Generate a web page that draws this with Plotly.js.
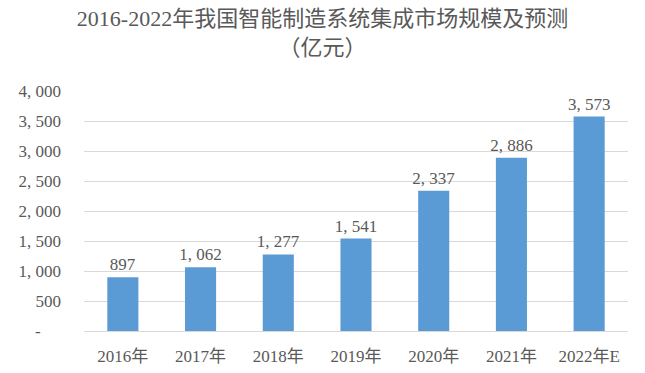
<!DOCTYPE html>
<html><head><meta charset="utf-8">
<script src="https://cdn.plot.ly/plotly-3.0.1.min.js"></script>
<style>html,body{margin:0;padding:0;background:#fff}#c{width:645px;height:373px}</style>
</head><body><div id="c"></div>
<script>
const categories = ["2016年","2017年","2018年","2019年","2020年","2021年","2022年E"];
const values = [897, 1062, 1277, 1541, 2337, 2886, 3573];
const yTicks = [0, 500, 1000, 1500, 2000, 2500, 3000, 3500, 4000];

function fmt(v){
  if (v === 0) return "-\u2007\u2007\u2009";
  return v.toLocaleString("en-US").replace(/,/g, ",\u00A0");
}
const FONT = "'Liberation Serif', 'Noto Sans CJK SC', serif";
const GRAY = "#595959";

const trace = {
  type: "bar",
  x: categories,
  y: values,
  text: values.map(fmt),
  textposition: "outside",
  constraintext: "none",
  cliponaxis: false,
  textfont: {family: FONT, size: 17, color: GRAY},
  marker: {color: "#5B9BD5"},
  hoverinfo: "none"
};

const layout = {
  width: 645, height: 373,
  margin: {l: 84, r: 17, t: 91, b: 42},
  paper_bgcolor: "#fff", plot_bgcolor: "#fff",
  bargap: 0.6,
  showlegend: false,
  font: {family: FONT, size: 17, color: GRAY},
  title: {
    text: "2016-2022年我国智能制造系统集成市场规模及预测<br>（亿元）",
    font: {family: FONT, size: 22, color: GRAY},
    x: 0.5, xref: "container", xanchor: "center",
    y: 1 - 26/373, yref: "container", yanchor: "middle"
  },
  xaxis: {
    type: "category",
    showgrid: false, zeroline: false,
    showline: true, linecolor: "#D9D9D9", linewidth: 1,
    ticks: "",
    ticklabelstandoff: 10,
    tickfont: {family: FONT, size: 17, color: GRAY}
  },
  yaxis: {
    range: [0, 4000],
    tickvals: yTicks,
    ticktext: yTicks.map(fmt),
    showgrid: true, gridcolor: "#D9D9D9", gridwidth: 1,
    zeroline: false, showline: false, ticks: "",
    ticklabelstandoff: 22,
    tickfont: {family: FONT, size: 17, color: GRAY}
  }
};

Plotly.newPlot("c", [trace], layout, {displayModeBar: false, staticPlot: true});
</script>
</body></html>
